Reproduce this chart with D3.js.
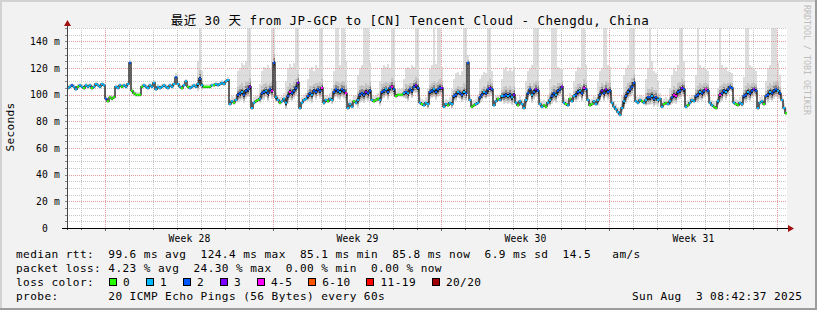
<!DOCTYPE html>
<html>
<head>
<meta charset="utf-8">
<script src="https://cdn.jsdelivr.net/npm/d3@7"></script>
<style>
  body { margin: 0; background: #fff; }
  svg text { font-family: "DejaVu Sans Mono", "Noto Sans CJK SC", monospace; white-space: pre; }
</style>
</head>
<body>
<script>
// one sample every 2 hours, 30 days
var STEP = 2;

var med = [
  105,106,107,106,104,106,107,106,105,107,106,107,
  105,106,108,107,106,108,107,97,95,98,97,98,
  106,105,107,106,107,106,108,124,103,101,100,100,
  100,106,107,106,105,107,106,109,104,106,105,106,
  107,106,105,107,106,108,113,108,106,105,107,110,
  106,105,106,107,106,108,112,107,106,106,106,106,
  107,107,108,107,108,109,108,110,111,
  93,95,94,96,100,101,102,100,103,104,106,90,
  94,95,96,97,101,102,103,101,104,103,124,98,
  96,94,95,97,94,99,102,101,103,105,109,90,
  94,96,97,99,101,100,103,102,104,103,105,94,
  96,95,97,96,102,104,103,102,104,103,101,90,
  93,91,95,94,96,100,101,100,102,101,103,96,
  95,96,97,96,102,103,104,102,105,106,104,99,
  100,100,100,101,102,101,104,103,106,107,105,94,
  93,92,94,93,102,103,104,102,104,105,105,91,
  93,92,94,93,99,100,102,101,100,102,101,124,
  96,91,92,93,94,98,100,102,101,104,105,104,
  92,95,97,96,99,99,100,99,100,98,100,94,
  92,95,93,90,96,101,104,100,102,104,103,93,
  91,92,91,94,96,99,101,100,103,104,106,94,
  93,92,97,95,99,100,102,103,101,105,104,96,
  92,93,95,93,96,100,103,101,104,102,103,94,
  91,89,87,85,90,95,99,102,104,106,109,95,
  94,96,95,94,96,98,98,99,97,98,96,97,
  91,93,94,93,95,98,100,99,102,103,105,104,
  91,92,94,96,95,99,100,102,101,103,104,103,
  94,92,91,90,95,100,101,103,102,104,106,105,
  94,93,92,94,93,99,100,102,101,103,104,103,
  90,94,95,93,99,100,102,101,103,104,103,101,
  96,90,86
];

// loss level index into lossColors
var loss = [
  1,1,2,1,1,0,1,1,0,1,1,1,
  0,1,1,1,1,1,1,2,0,0,0,0,
  1,1,1,0,1,1,1,2,0,0,0,0,
  0,0,1,1,1,1,1,1,1,1,1,1,
  1,1,1,1,1,1,2,1,1,0,1,1,
  0,1,1,1,1,1,2,1,0,0,0,0,
  1,0,1,1,1,1,1,1,1,
  1,1,0,1,2,2,1,2,2,2,3,1,
  1,0,0,1,2,2,1,2,2,4,2,1,
  1,0,1,1,1,2,4,2,2,2,3,1,
  1,1,1,2,2,1,2,2,2,2,4,1,
  1,0,1,1,2,2,2,1,2,2,4,1,
  1,1,0,1,1,2,2,2,3,2,2,1,
  0,0,0,1,2,2,1,2,2,4,2,0,
  0,0,0,1,2,1,2,2,2,3,2,1,
  0,1,1,1,2,2,1,2,2,2,3,1,
  1,0,1,1,2,2,1,2,2,1,2,2,
  1,0,0,1,1,2,2,1,2,2,3,2,
  1,1,0,1,1,2,2,1,2,1,3,1,
  0,1,1,1,1,2,2,1,2,3,2,1,
  1,0,0,1,1,2,2,1,2,2,3,1,
  0,1,0,1,1,2,2,1,2,4,2,1,
  0,0,1,1,1,2,3,2,3,2,2,1,
  1,1,1,1,1,1,2,2,2,2,2,1,
  1,1,0,1,1,2,2,1,2,2,1,1,
  1,0,0,1,1,2,4,4,2,2,3,2,
  1,0,1,1,1,2,2,1,2,2,4,2,
  1,1,0,0,1,4,2,2,1,2,2,2,
  1,0,0,1,1,2,2,1,2,2,3,2,
  1,1,1,0,2,2,1,2,2,2,1,2,
  1,1,0
];

// top of the smoke (slowest pings), ms
var smokeHi = [
  107,108,109,108,106,108,109,108,107,109,108,109,
  107,108,110,109,108,110,109,99,97,100,99,100,
  108,107,109,108,109,108,110,126,105,103,102,102,
  102,108,109,108,107,109,108,111,106,108,107,108,
  109,108,107,109,108,110,116,110,108,107,109,112,
  108,107,108,109,108,125,150,118,108,108,108,108,
  109,109,110,109,110,111,110,112,113,
  97,99,98,100,118,120,124,122,125,150,150,95,
  98,99,100,108,118,121,120,122,119,150,150,110,
  100,98,99,101,110,120,123,121,124,150,150,95,
  98,100,101,112,119,121,118,122,120,150,150,100,
  100,99,101,105,118,150,150,122,150,150,125,95,
  97,96,99,100,115,120,122,150,150,150,124,100,
  99,100,101,110,120,122,121,123,120,150,150,103,
  104,104,105,112,120,121,119,122,121,150,150,98,
  97,96,98,105,119,122,150,123,150,150,121,95,
  97,96,98,104,112,116,117,115,118,150,150,130,
  100,95,96,97,100,112,115,117,116,150,150,118,
  96,99,100,100,112,119,121,118,120,118,121,98,
  96,99,97,95,110,118,120,122,150,150,150,97,
  95,96,95,100,112,150,150,150,121,120,119,98,
  97,96,101,100,110,118,121,120,150,150,122,100,
  96,97,99,98,110,118,120,150,150,122,121,98,
  95,93,91,90,100,115,120,122,150,150,150,99,
  98,100,99,98,112,120,150,125,118,116,110,101,
  95,97,98,97,105,115,120,118,122,150,150,125,
  95,96,98,100,99,115,150,122,120,121,119,118,
  98,96,95,94,105,150,122,120,121,118,117,116,
  98,97,96,98,100,113,150,150,122,121,120,118,
  95,98,99,97,110,120,122,150,150,150,124,115,
  100,94,90
];

var lossColors = ["#26ff00", "#00b8ff", "#0059ff", "#7e00ff", "#ff00ff", "#ff5500", "#ff0000", "#a10000"];
var lossLabels = ["0", "1", "2", "3", "4-5", "6-10", "11-19", "20/20"];

var yLabelVals = [0, 20, 40, 60, 80, 100, 120, 140];
var weekLabels = ["Week 28", "Week 29", "Week 30", "Week 31"];
var weekMidHours = [122, 290, 458, 626];
var firstMidnight = 14, firstMonday = 38, spanHours = 720;

var title = "最近 30 天 from JP-GCP to [CN] Tencent Cloud - Chengdu, China";
var legendRows = [
  "median rtt:  99.6 ms avg  124.4 ms max  85.1 ms min  85.8 ms now  6.9 ms sd  14.5   am/s",
  "packet loss: 4.23 % avg  24.30 % max  0.00 % min  0.00 % now",
  "loss color:",
  "probe:       20 ICMP Echo Pings (56 Bytes) every 60s"
];
var stamp = "Sun Aug  3 08:42:37 2025";

var W = 817, H = 310;
var x = d3.scaleLinear().domain([0, spanHours]).range([67, 787]);
var y = d3.scaleLinear().domain([0, 150]).range([228, 28]);

var svg = d3.select('body').append('svg')
  .attr('width', W)
  .attr('height', H);

// frame
svg.append('rect').attr('width', W).attr('height', H).attr('fill', '#f2f2f2');
svg.append('path').attr('d', 'M0,1H' + W + 'M1,0V' + H).attr('stroke', '#d2d2d2').attr('stroke-width', 2);
svg.append('path').attr('d', 'M0,' + (H - 1) + 'H' + W + 'M' + (W - 1) + ',0V' + H).attr('stroke', '#9c9c9c').attr('stroke-width', 2);

svg.append('rect')
  .attr('x', x(0)).attr('y', y(150))
  .attr('width', x(spanHours) - x(0)).attr('height', y(0) - y(150))
  .attr('fill', '#fff');

var steps = med.map(function(m, i) {
  var u = Math.min(smokeHi[i] - m, 20);
  return { t: i * STEP, m: m, loss: loss[i], hi: smokeHi[i], u: u, dn: Math.max(1.5, Math.min(7, u * 0.3)) };
});

// smoke, drawn light to dark
var layers = [
  { c: '#dddddd', up: null, dn: 1 },
  { c: '#c2c2c2', up: 0.32, dn: 0.8 },
  { c: '#8a8a8a', up: 0.16, dn: 0.55 },
  { c: '#2a2a2a', up: 0.06, dn: 0.3 }
];
layers.forEach(function(L) {
  svg.append('g').attr('shape-rendering', 'crispEdges')
    .selectAll('rect')
    .data(steps)
    .enter()
    .append('rect')
    .attr('x', function(d) { return x(d.t); })
    .attr('width', function(d) { return x(d.t + STEP) - x(d.t); })
    .attr('y', function(d) { return y(L.up === null ? d.hi : d.m + d.u * L.up); })
    .attr('height', function(d) {
      var top = L.up === null ? d.hi : d.m + d.u * L.up;
      return Math.max(1, y(d.m - d.dn * L.dn) - y(top));
    })
    .attr('fill', L.c);
});

// grid
var grid = svg.append('g').attr('shape-rendering', 'crispEdges');
d3.range(5, 151, 5).forEach(function(v) {
  grid.append('line')
    .attr('x1', x(0)).attr('x2', x(spanHours))
    .attr('y1', Math.round(y(v)) + 0.5).attr('y2', Math.round(y(v)) + 0.5)
    .attr('stroke', v % 20 === 0 ? '#e49a9a' : '#c8c8c8')
    .attr('stroke-dasharray', '1,1');
});
d3.range(firstMidnight, spanHours, 24).forEach(function(h) {
  var major = (h - firstMonday) % 168 === 0;
  grid.append('line')
    .attr('x1', Math.round(x(h)) + 0.5).attr('x2', Math.round(x(h)) + 0.5)
    .attr('y1', y(150)).attr('y2', y(0))
    .attr('stroke', major ? '#e49a9a' : '#c8c8c8')
    .attr('stroke-dasharray', '1,1');
  svg.append('line')
    .attr('x1', Math.round(x(h)) + 0.5).attr('x2', Math.round(x(h)) + 0.5)
    .attr('y1', y(0)).attr('y2', y(0) + (major ? 3 : 2))
    .attr('stroke', '#666');
});

// median line
var stepLine = d3.line()
  .x(function(d) { return x(d.t); })
  .y(function(d) { return y(d.m); })
  .curve(d3.curveStepAfter);
var last = steps[steps.length - 1];
svg.append('path')
  .datum(steps.concat([{ t: last.t + STEP, m: last.m }]))
  .attr('d', stepLine)
  .attr('fill', 'none')
  .attr('stroke', '#111')
  .attr('stroke-width', 1.3);

svg.append('g')
  .selectAll('line')
  .data(steps)
  .enter()
  .append('line')
  .attr('x1', function(d) { return x(d.t); })
  .attr('x2', function(d) { return x(d.t + STEP); })
  .attr('y1', function(d) { return y(d.m); })
  .attr('y2', function(d) { return y(d.m); })
  .attr('stroke', function(d) { return lossColors[d.loss]; })
  .attr('stroke-width', 2);

// axes
svg.append('line').attr('x1', 67.5).attr('x2', 67.5).attr('y1', 230).attr('y2', 25).attr('stroke', '#444');
svg.append('line').attr('x1', 62).attr('x2', 790).attr('y1', 228.5).attr('y2', 228.5).attr('stroke', '#000');
svg.append('path').attr('d', 'M64,26L71,26L67.5,20Z').attr('fill', '#a01010');
svg.append('path').attr('d', 'M788,225L788,232L794,228.5Z').attr('fill', '#a01010');
d3.range(5, 151, 5).forEach(function(v) {
  svg.append('line')
    .attr('x1', 65).attr('x2', 67)
    .attr('y1', Math.round(y(v)) + 0.5).attr('y2', Math.round(y(v)) + 0.5)
    .attr('stroke', '#888');
});

var yAxis = d3.axisLeft(y)
  .tickValues(yLabelVals)
  .tickFormat(function(d) { return d ? d + ' m' : '0  '; })
  .tickSize(0)
  .tickPadding(7);
var yg = svg.append('g').attr('transform', 'translate(67,0)').call(yAxis);
yg.select('.domain').remove();
yg.attr('font-family', null).attr('font-size', null);
yg.selectAll('text')
  .attr('xml:space', 'preserve')
  .style('font-size', '9.7px')
  .style('letter-spacing', '0.16px')
  .attr('fill', '#000');

var xAxis = d3.axisBottom(x)
  .tickValues(weekMidHours)
  .tickFormat(function(d, i) { return weekLabels[i]; })
  .tickSize(0);
var xg = svg.append('g').attr('transform', 'translate(0,228)').call(xAxis);
xg.select('.domain').remove();
xg.attr('font-family', null).attr('font-size', null);
xg.selectAll('text')
  .attr('dy', null)
  .attr('y', 13.5)
  .style('font-size', '9.7px')
  .style('letter-spacing', '0.16px')
  .attr('fill', '#000');

// title and unit
svg.append('text')
  .attr('x', 410).attr('y', 25)
  .attr('text-anchor', 'middle')
  .style('font-size', '12.5px')
  .style('letter-spacing', '0.47px')
  .text(title);

svg.append('text')
  .attr('transform', 'translate(14,127) rotate(-90)')
  .attr('text-anchor', 'middle')
  .style('font-size', '11.1px')
  .style('letter-spacing', '0.3px')
  .text('Seconds');

svg.append('text')
  .attr('transform', 'translate(804,5) rotate(90)')
  .style('font-size', '8.3px')
  .attr('fill', '#bdbdbd')
  .text('RRDTOOL / TOBI OETIKER');

// legend
legendRows.forEach(function(row, i) {
  svg.append('text')
    .attr('xml:space', 'preserve')
    .attr('x', 16).attr('y', 258 + i * 14)
    .style('font-size', '11.1px')
    .style('letter-spacing', '0.42px')
    .text(row);
});

var sx = 108.7;
lossLabels.forEach(function(lbl, i) {
  svg.append('rect')
    .attr('x', Math.round(sx) + 0.5).attr('y', 278.5)
    .attr('width', 7).attr('height', 7)
    .attr('fill', lossColors[i])
    .attr('stroke', '#000');
  svg.append('text')
    .attr('x', sx + 14.3).attr('y', 286)
    .style('font-size', '11.1px')
    .style('letter-spacing', '0.42px')
    .text(lbl);
  sx += 37 + (lbl.length - 1) * 7.1;
});

svg.append('text')
  .attr('xml:space', 'preserve')
  .attr('x', 632).attr('y', 300)
  .style('font-size', '11.1px')
  .style('letter-spacing', '0.42px')
  .text(stamp);
</script>
</body>
</html>
